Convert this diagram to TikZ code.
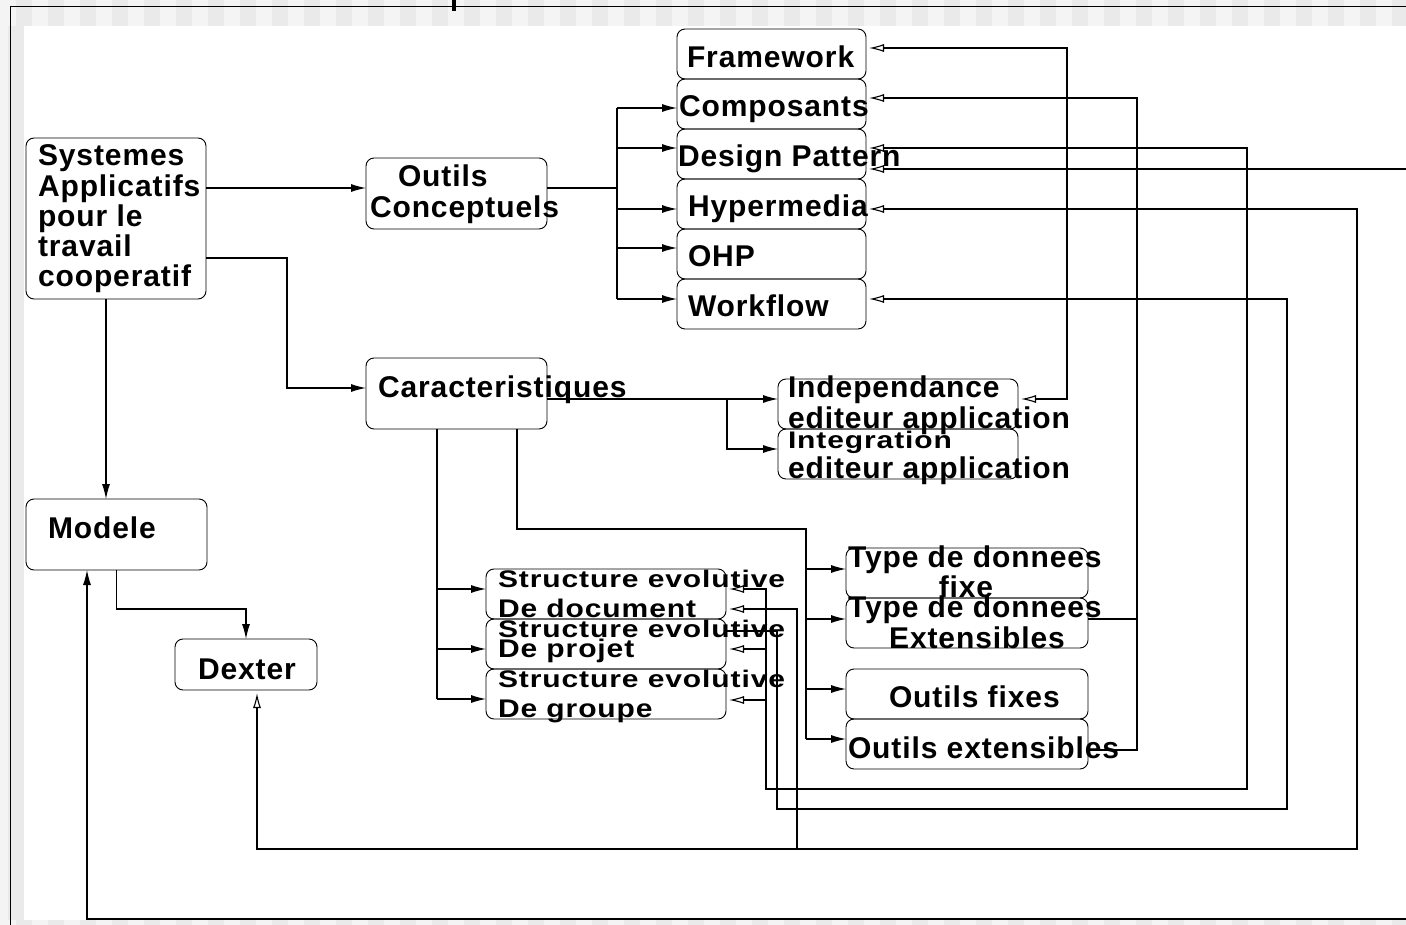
\documentclass[tikz,border=0pt]{standalone}
\usepackage{fontspec}
\setmainfont{Liberation Sans}[LetterSpace=3]
\usetikzlibrary{arrows.meta}
\definecolor{bandA}{HTML}{F4F4F4}
\definecolor{bandB}{HTML}{EAEAEA}
\begin{document}
\begin{tikzpicture}[x=1pt,y=-1pt,
  box/.style={draw, rounded corners=8pt, line width=0.9pt, inner sep=0pt, outer sep=0pt},
  lbl/.style={anchor=base west, inner sep=0pt, outer sep=0pt, font=\fontsize{30}{30}\selectfont\bfseries},
  lblc/.style={lbl, anchor=base},
  wire/.style={line width=1.1pt},
  tipf/.tip={Latex[length=15pt,width=8pt]},
  tipo/.tip={Latex[open,length=15pt,width=8pt]},
  fwd/.style={wire, -tipf},
  ret/.style={wire, tipo-, shorten <=3pt},
  retboth/.style={wire, tipo-tipo, shorten <=3pt, shorten >=3pt},
  retfwd/.style={wire, tipo-tipf, shorten <=3pt},
]
\useasboundingbox (0,0) rectangle (1406,925);

% window background and canvas
\fill[bandB] (0,0) rectangle (1406,925);
\foreach \i in {0,...,43} {
  \fill[bandA] (32*\i,0) rectangle (32*\i+16,26);
  \fill[bandA] (32*\i,920) rectangle (32*\i+16,925);
}
\fill[bandA] (0,26) rectangle (8,925);
\fill[white] (24,26) rectangle (1406,920);
\draw[line width=1pt] (10,925) -- (10,7) -- (1430,7);
\fill (452,0) rectangle (456,11);

% boxes
\node[box, minimum width=180pt, minimum height=161pt] (sys) at (116,218.5) {};
\node[box, minimum width=181pt, minimum height=71pt] (outils) at (456.5,193.5) {};
\node[box, minimum width=181pt, minimum height=71pt] (carac) at (456.5,393.5) {};
\node[box, minimum width=189pt, minimum height=50pt] (frame) at (771.5,54) {};
\node[box, minimum width=189pt, minimum height=50pt] (compo) at (771.5,104) {};
\node[box, minimum width=189pt, minimum height=50pt] (design) at (771.5,154) {};
\node[box, minimum width=189pt, minimum height=50pt] (hyper) at (771.5,204) {};
\node[box, minimum width=189pt, minimum height=50pt] (ohp) at (771.5,254) {};
\node[box, minimum width=189pt, minimum height=50pt] (work) at (771.5,304) {};
\node[box, minimum width=240pt, minimum height=50pt] (indep) at (898,404) {};
\node[box, minimum width=240pt, minimum height=50pt] (integ) at (898,454) {};
\node[box, minimum width=240pt, minimum height=50pt] (sdoc) at (606,594) {};
\node[box, minimum width=240pt, minimum height=50pt] (sproj) at (606,644) {};
\node[box, minimum width=240pt, minimum height=50pt] (sgrp) at (606,694) {};
\node[box, minimum width=242pt, minimum height=50pt] (tfix) at (967,573) {};
\node[box, minimum width=242pt, minimum height=50pt] (typx) at (967,623) {};
\node[box, minimum width=242pt, minimum height=50pt] (ofix) at (967,694) {};
\node[box, minimum width=242pt, minimum height=50pt] (oext) at (967,744) {};
\node[box, minimum width=181pt, minimum height=71pt] (modele) at (116.5,534.5) {};
\node[box, minimum width=142pt, minimum height=51pt] (dexter) at (246,664.5) {};

% labels
\node[lbl] (t-sys-1) at (38,166) {Systemes};
\node[lbl] (t-sys-2) at (38,197) {Applicatifs};
\node[lbl] (t-sys-3) at (38,227) {pour le};
\node[lbl] (t-sys-4) at (38,257) {travail};
\node[lbl] (t-sys-5) at (38,287) {cooperatif};
\node[lbl] (t-outils-1) at (398,187) {Outils};
\node[lbl] (t-outils-2) at (370,218) {Conceptuels};
\node[lbl] (t-carac) at (378,397) {Caracteristiques};
\node[lbl] (t-frame) at (687,68) {Framework};
\node[lbl] (t-compo) at (679,117) {Composants};
\node[lbl] (t-design) at (678,167) {Design Pattern};
\node[lbl] (t-hyper) at (688,217) {Hypermedia};
\node[lbl] (t-ohp) at (688,267) {OHP};
\node[lbl] (t-work) at (688,317) {Workflow};
\node[lbl] (t-indep-1) at (788,397) {Independance};
\node[lbl] (t-indep-2) at (788,428) {editeur application};
\node[lbl] (t-integ-1) at (788,448) {\scalebox{1}[0.8]{Integration}};
\node[lbl] (t-integ-2) at (788,478) {editeur application};
\node[lbl] (t-sdoc-1) at (498,587) {\scalebox{1}[0.8]{Structure evolutive}};
\node[lbl] (t-sdoc-2) at (498,617) {\scalebox{1}[0.85]{De document}};
\node[lbl] (t-sproj-1) at (498,637) {\scalebox{1}[0.8]{Structure evolutive}};
\node[lbl] (t-sproj-2) at (498,657) {\scalebox{1}[0.85]{De projet}};
\node[lbl] (t-sgrp-1) at (498,687) {\scalebox{1}[0.8]{Structure evolutive}};
\node[lbl] (t-sgrp-2) at (498,717) {\scalebox{1}[0.85]{De groupe}};
\node[lbl] (t-tfix-1) at (848,567) {Type de donnees};
\node[lblc] (t-tfix-2) at (966,597) {fixe};
\node[lbl] (t-typx-1) at (848,617) {Type de donnees};
\node[lblc] (t-typx-2) at (977,648) {Extensibles};
\node[lbl] (t-ofix) at (889,707) {Outils fixes};
\node[lbl] (t-oext) at (848,758) {Outils extensibles};
\node[lbl] (t-modele) at (48,538) {Modele};
\node[lbl] (t-dexter) at (198,679) {Dexter};

% forward links
\draw[fwd] (sys.east |- 0,188) -- (outils.west |- 0,188);
\draw[fwd] (sys.east |- 0,258) -| (287,388) -- (carac.west |- 0,388);
\draw[fwd] (sys.south -| 106,0) -- (modele.north -| 106,0);
\draw[fwd] (modele.south) |- (dexter.north |- 0,609) -- (dexter.north);

\coordinate (ob) at (617,0);
\draw[wire] (outils.east |- 0,188) -- (ob |- 0,188);
\draw[wire] (ob |- 0,108) -- (ob |- 0,299);
\foreach \n/\y in {compo/108, design/148, hyper/209, ohp/248, work/299}
  \draw[fwd] (ob |- 0,\y) -- (\n.west |- 0,\y);

\draw[fwd] (carac.east |- 0,399) -- (indep.west |- 0,399);
\draw[fwd] (727,399) |- (integ.west |- 0,449);

\draw[wire] (carac.south -| 437,0) -- (437,699);
\foreach \n/\y in {sdoc/589, sproj/649, sgrp/699}
  \draw[fwd] (437,\y) -- (\n.west |- 0,\y);

\draw[wire] (carac.south -| 517,0) |- (806,529) -- (806,739);
\foreach \n/\y in {tfix/569, typx/619, ofix/689, oext/739}
  \draw[fwd] (806,\y) -- (\n.west |- 0,\y);

% return links
\draw[retboth] (frame.east |- 0,48) -| (1067,399) -- (indep.east |- 0,399);

\draw[ret] (compo.east |- 0,98) -| (1137,750) -- (oext.east |- 0,750);
\draw[wire] (typx.east |- 0,619) -- (1137,619);

\draw[retboth] (design.east |- 0,148) -| (1247,789) -| (766,589) -- (sdoc.east |- 0,589);
\draw[ret] (sproj.east |- 0,649) -- (766,649);
\draw[ret] (sgrp.east |- 0,700) -- (766,700);

\coordinate (offR) at (1440,0);
\draw[retfwd] (design.east |- 0,169) -- (offR |- 0,169) -- (offR |- 0,919) -| (modele.south -| 87,0);

\draw[retboth] (hyper.east |- 0,209) -| (1357,849) -| (dexter.south -| 257,0);
\draw[ret] (sdoc.east |- 0,609) -| (797,849);

\draw[ret] (work.east |- 0,299) -| (1287,809) -| (777,631) -- (sproj.east |- 0,631);
\end{tikzpicture}
\end{document}
